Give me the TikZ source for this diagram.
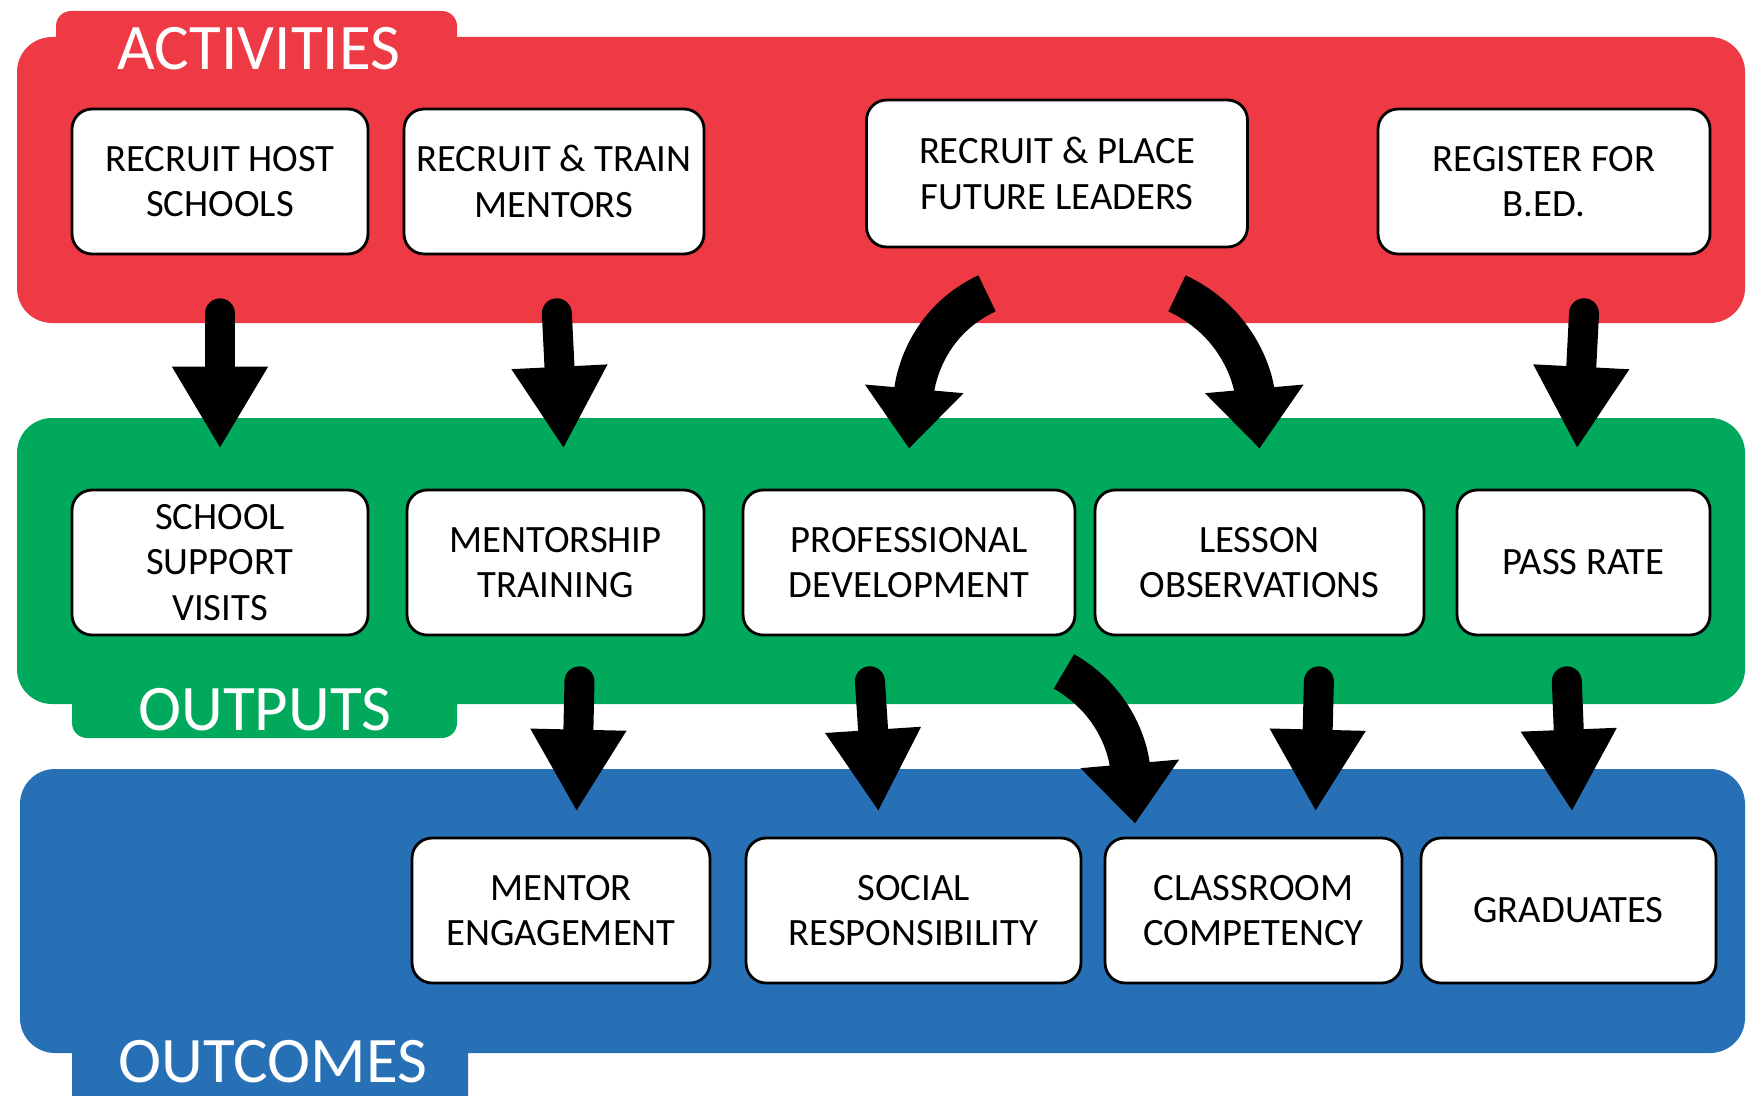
\documentclass[tikz,border=0pt]{standalone}
\usepackage{fontspec}
\setmainfont{Carlito}
\usepackage{xcolor}
\usetikzlibrary{arrows.meta, positioning}
\definecolor{ActRed}{HTML}{EE3A45}
\definecolor{OutGreen}{HTML}{00A95C}
\definecolor{OcBlue}{HTML}{2870B5}

\begin{document}
\begin{tikzpicture}[
			x=0.02cm, y=0.02cm,
			BoxCfg/.style={
				draw, fill=white, line width=1.6pt,
				rounded corners=0.4cm, align=center,
				minimum height=2.9cm, inner sep=0pt,
				font=\fontsize{22}{26}\selectfont
			},
			TitleCfg/.style={text=white, font=\fontsize{37}{40}\selectfont},
			ArrowCfg/.style={line width=0.6cm, line cap=round,
				-{Triangle[length=1.64cm, width=1.8cm]}},
			CurveCfg/.style={line width=0.8cm,
				-{Triangle[length=1.2cm, width=1.9cm]}}
			]
			
			\useasboundingbox (0,0) rectangle (1747,-1095);
			
			% bands
			\fill[ActRed, rounded corners=0.3cm] (56,-11) rectangle (457,-80);
			\fill[ActRed, rounded corners=0.7cm] (17,-37) rectangle (1745,-323);
			\fill[OutGreen, rounded corners=0.3cm] (72,-650) rectangle (457,-738);
			\fill[OutGreen, rounded corners=0.7cm] (17,-418) rectangle (1745,-704);
			\fill[OcBlue, rounded corners=0.3cm] (72,-1000) rectangle (468,-1130);
			\fill[OcBlue, rounded corners=0.7cm] (20,-769) rectangle (1745,-1053);
			
			\path
			(259,-49) node [TitleCfg] (acttitle) {ACTIVITIES}
			(265,-710) node [TitleCfg] (outtitle) {OUTPUTS}
			(273,-1062) node [TitleCfg] (octitle) {OUTCOMES};
			
			% activities
			\path
			(220,-181.5) node [BoxCfg, minimum width=5.92cm] (host) {RECRUIT HOST\\SCHOOLS}
			(554,-181.5) node [BoxCfg, minimum width=6cm] (train) {RECRUIT \& TRAIN\\MENTORS}
			(1057,-173.5) node [BoxCfg, minimum width=7.62cm, minimum height=2.94cm] (leaders) {RECRUIT \& PLACE\\FUTURE LEADERS}
			(1544,-181.5) node [BoxCfg, minimum width=6.64cm] (register) {REGISTER FOR\\B.ED.};
			
			% outputs
			\path
			(220,-562.5) node [BoxCfg, minimum width=5.92cm] (visits) {SCHOOL\\SUPPORT\\VISITS}
			(555.5,-562.5) node [BoxCfg, minimum width=5.94cm] (mentorship) {MENTORSHIP\\TRAINING}
			(909,-562.5) node [BoxCfg, minimum width=6.64cm] (profdev) {PROFESSIONAL\\DEVELOPMENT}
			(1259.5,-562.5) node [BoxCfg, minimum width=6.58cm] (lesson) {LESSON\\OBSERVATIONS}
			(1583.5,-562.5) node [BoxCfg, minimum width=5.06cm] (pass) {PASS RATE};
			
			% outcomes
			\path
			(561,-910.5) node [BoxCfg, minimum width=5.96cm] (engagement) {MENTOR\\ENGAGEMENT}
			(913.5,-910.5) node [BoxCfg, minimum width=6.7cm] (social) {SOCIAL\\RESPONSIBILITY}
			(1253.5,-910.5) node [BoxCfg, minimum width=5.94cm] (classroom) {CLASSROOM\\COMPETENCY}
			(1568.5,-910.5) node [BoxCfg, minimum width=5.9cm] (graduates) {GRADUATES};
			
			\draw[ArrowCfg, shorten <=1.16cm, shorten >=0.8cm]
			(host.south) -- (visits.north);
			\draw[ArrowCfg, shorten <=1.16cm, shorten >=0.8cm]
			(train.south) -- ([xshift=0.2cm]mentorship.north);
			\draw[ArrowCfg, shorten <=1.16cm, shorten >=0.8cm]
			([xshift=0.86cm]register.south) -- ([xshift=-0.17cm]pass.north);
			\draw[CurveCfg]
			([xshift=-1.4cm, yshift=-0.9cm]leaders.south) to[out=205, in=85] ([yshift=0.8cm]profdev.north);
			\draw[CurveCfg]
			([xshift=2.4cm, yshift=-0.9cm]leaders.south) to[out=-25, in=95] ([yshift=0.8cm]lesson.north);
			
			\draw[ArrowCfg, shorten <=0.9cm, shorten >=0.5cm]
			([xshift=0.5cm]mentorship.south) -- ([xshift=0.3cm]engagement.north);
			\draw[ArrowCfg, shorten <=0.9cm, shorten >=0.5cm]
			([xshift=-0.84cm]profdev.south) -- ([xshift=-0.67cm]social.north);
			\draw[ArrowCfg, shorten <=0.9cm, shorten >=0.5cm]
			([xshift=1.21cm]lesson.south) -- ([xshift=1.23cm]classroom.north);
			\draw[ArrowCfg, shorten <=0.9cm, shorten >=0.5cm]
			([xshift=-0.37cm]pass.south) -- ([xshift=0.09cm]graduates.north);
			\draw[CurveCfg]
			([xshift=3.1cm, yshift=-0.7cm]profdev.south) to[out=-30, in=95] ([xshift=-2.37cm, yshift=0.26cm]classroom.north);
		\end{tikzpicture}
\end{document}
